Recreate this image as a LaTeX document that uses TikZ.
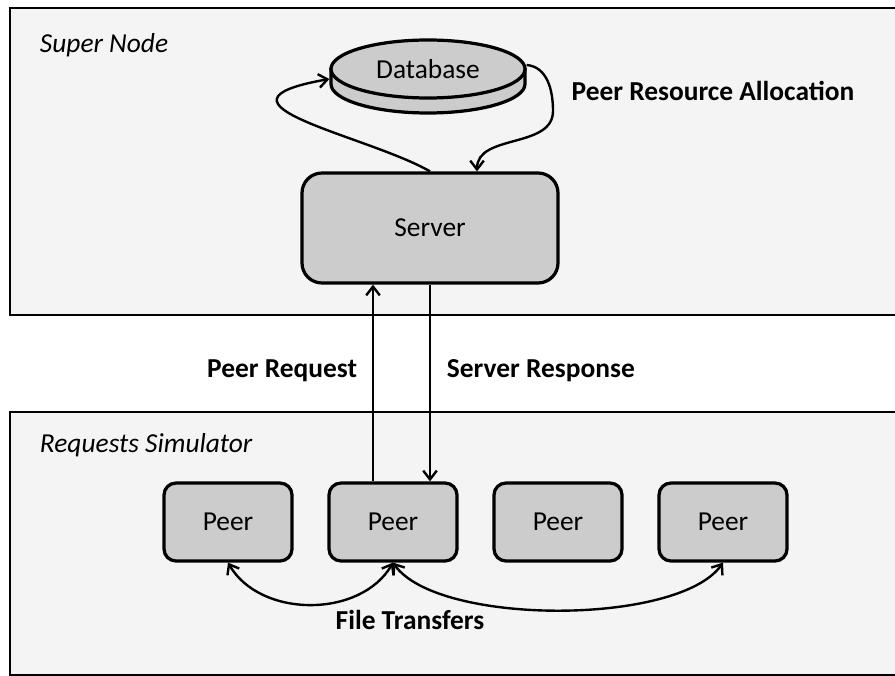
\documentclass[tikz,border=0pt]{standalone}
\usepackage{fontspec}
\setmainfont{Carlito}
\usetikzlibrary{arrows.meta,shapes.geometric}
\definecolor{regionfill}{HTML}{F4F4F4}
\definecolor{nodefill}{HTML}{CCCCCC}
\begin{document}
\begin{tikzpicture}[font=\fontsize{19.5}{23}\selectfont,
	region/.style={line width=2.1pt,fill=regionfill},
	grayblock/.style={draw,line width=2.3pt,fill=nodefill,rounded corners=0.5cm,inner sep=0},
	dbtop/.style={draw,ellipse,line width=2.3pt,fill=nodefill,minimum width=4.85cm,minimum height=1.45cm,inner sep=0},
	flow/.style={line width=1.7pt,-{Straight Barb[length=2.2mm,width=3.4mm]}},
	twoway/.style={line width=1.7pt,{Straight Barb[length=2.2mm,width=3.4mm]}-{Straight Barb[length=2.2mm,width=3.4mm]}},
	boldlabel/.style={font=\fontsize{19.5}{23}\selectfont\bfseries}]
			\useasboundingbox (0,0) rectangle (22.375,16.875);
			\clip (0,0) rectangle (22.375,16.875);
			\draw[region](0.25,9.0) rectangle (23,16.675);
			\draw[region](0.25,0) rectangle (23,6.575);
			\node[anchor=west] (supertitle) at (0.875,15.75){\itshape Super Node};
			\node[anchor=west] (simtitle) at (0.875,5.75){\itshape Requests Simulator};
			% database as a flat cylinder
			\draw[line width=2.3pt,fill=nodefill](8.275,15.15)--++(0,-0.375) arc [start angle=180, end angle=360, x radius=2.425, y radius=0.725]--++(0,0.375)--cycle;
			\node[dbtop] (db) at (10.7,15.15){Database};
			\node[grayblock,minimum width=6.4cm,minimum height=2.75cm] (srv) at (10.75,11.175){Server};
			\node[boldlabel] (alloc) at (17.825,14.6){Peer Resource Allocation};
			\coordinate (dbbend) at (13.825,14.1);
			\draw[flow](srv.north) .. controls +(150:1.8) and +(190:3.5) .. ([yshift=-0.25cm]db.west);
			\draw[flow]([yshift=0.1cm]db.east) to[out=-5,in=90] (dbbend) to[out=-90,in=90] ([xshift=1.175cm]srv.north);
			% peers
			\node[grayblock,rounded corners=0.3cm,minimum width=3.2cm,minimum height=1.95cm] (p1) at (5.7,3.825){Peer};
			\node[grayblock,rounded corners=0.3cm,minimum width=3.2cm,minimum height=1.95cm] (p2) at (9.825,3.825){Peer};
			\node[grayblock,rounded corners=0.3cm,minimum width=3.2cm,minimum height=1.95cm] (p3) at (13.95,3.825){Peer};
			\node[grayblock,rounded corners=0.3cm,minimum width=3.2cm,minimum height=1.95cm] (p4) at (18.075,3.825){Peer};
			\draw[flow]([xshift=-0.5cm]p2.north)--([xshift=-0.5cm]p2.north |- srv.south);
			\draw[flow](srv.south)--(srv.south |- p2.north);
			\node[boldlabel,anchor=east] (req) at (9.05,7.6){Peer Request};
			\node[boldlabel,anchor=west] (resp) at (11.05,7.6){Server Response};
			\draw[twoway](p2.south) to[out=-120,in=-60] (p1.south);
			\draw[twoway](p2.south) to[out=-55,in=-125,looseness=0.6] (p4.south);
			\node[boldlabel] (files) at (10.25,1.375){File Transfers};
		\end{tikzpicture}
\end{document}
